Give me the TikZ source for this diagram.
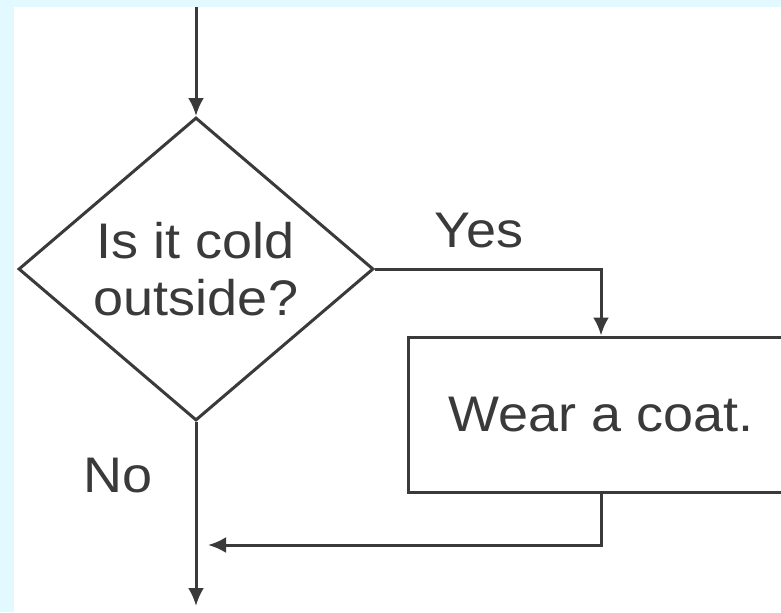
\documentclass[tikz,border=0pt]{standalone}
\usepackage{fontspec}
\setmainfont{Liberation Sans}[FakeStretch=1.08]
\usetikzlibrary{shapes.geometric,arrows.meta}
\definecolor{bgblue}{RGB}{226,249,255}
\definecolor{ink}{RGB}{58,58,58}

\begin{document}
\begin{tikzpicture}[x=0.5pt,y=-0.5pt,
  line/.style={draw=ink,line width=1.5pt,-{Latex[length=9pt,width=8pt]}},
  txt/.style={text=ink,font=\fontsize{25}{28.5}\selectfont}]
\useasboundingbox (0,0) rectangle (781,612);
\fill[bgblue] (0,0) rectangle (781,612);
\fill[white] (14,7) rectangle (781,612);
\clip (0,0) rectangle (781,612);
\node[draw=ink,line width=1.5pt,diamond,minimum width=177.5pt,minimum height=151.5pt,inner sep=0pt,align=center,txt] (q) at (196,269) {Is it cold\\outside?};
\node[draw=ink,line width=1.5pt,minimum width=193pt,minimum height=77.5pt,txt] (coat) at (601,414.5) {Wear a coat.};
\node[txt] (yes) at (479,231) {Yes};
\node[txt] (no) at (118,476) {No};
\coordinate (start) at (196,7);
\coordinate (back) at (208,545);
\coordinate (stop) at (196,606);
\draw[line] (start) -- (q.north);
\draw[line] (q.east) -| (coat.north);
\draw[line] (coat.south) |- (back);
\draw[line] (q.south) -- (stop);
\end{tikzpicture}
\end{document}
